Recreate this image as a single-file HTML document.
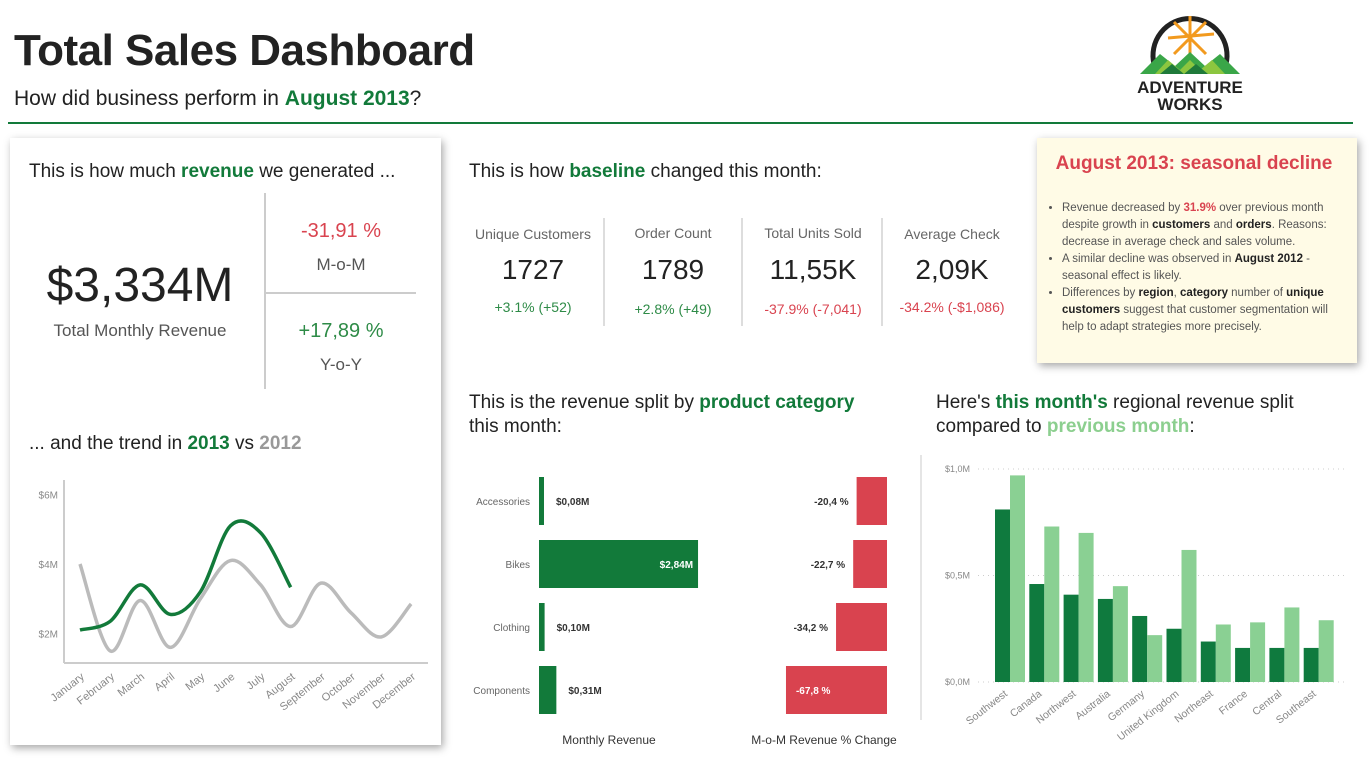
<!DOCTYPE html>
<html><head><meta charset="utf-8"><style>
*{margin:0;padding:0;box-sizing:border-box}
body{width:1370px;height:767px;background:#fff;font-family:"Liberation Sans",sans-serif;position:relative;overflow:hidden;color:#222}
.a{position:absolute}
.g{color:#127a3a;font-weight:bold}
.lg{color:#8ccf8f;font-weight:bold}
.r{color:#d9434f}
.gr{color:#2e8b47}
.card{position:absolute;background:#fff;box-shadow:2px 3px 8px rgba(0,0,0,.35)}
.h{font-size:19px;color:#222}
.kl{font-size:14px;color:#666;text-align:center;width:130px}
.kv{font-size:28px;color:#222;text-align:center;width:130px}
.kd{font-size:14px;text-align:center;width:130px}
svg text{font-family:"Liberation Sans",sans-serif}
</style></head><body>
<div class="a" style="left:14px;top:26px;font-size:44px;font-weight:bold;letter-spacing:-0.5px">Total Sales Dashboard</div>
<div class="a" style="left:14px;top:87px;font-size:21px">How did business perform in <span class="g">August 2013</span>?</div>
<div class="a" style="left:8px;top:122px;width:1345px;height:2px;background:#127a3a"></div>

<svg class="a" style="left:1130px;top:4px" width="120" height="112">
<path d="M24 60 A37 37 0 1 1 96 60" fill="none" stroke="#222" stroke-width="5"/>
<g stroke="#f29a1f" stroke-width="3"><line x1="60" y1="12" x2="60" y2="56"/><line x1="38" y1="34" x2="84" y2="30"/><line x1="44" y1="18" x2="76" y2="50"/><line x1="76" y1="18" x2="44" y2="50"/></g>
<polygon points="10,70 30,50 45,62 60,48 75,62 90,50 110,70" fill="#3aa648"/>
<polygon points="25,70 38,56 50,66 60,56 70,66 82,56 95,70" fill="#8cc63f"/>
<polygon points="30,70 42,60 54,70 66,60 78,70" fill="#1f7a3a"/>
<text x="60" y="89" text-anchor="middle" font-size="17" font-weight="bold" fill="#222">ADVENTURE</text>
<text x="60" y="106" text-anchor="middle" font-size="17" font-weight="bold" fill="#222">WORKS</text>
</svg>

<div class="card" style="left:10px;top:138px;width:431px;height:607px"></div>
<div class="a h" style="left:29px;top:161px">This is how much <span class="g">revenue</span> we generated ...</div>
<div class="a" style="left:20px;top:258px;width:240px;text-align:center;font-size:48px">$3,334M</div>
<div class="a" style="left:20px;top:321px;width:240px;text-align:center;font-size:17px;color:#555">Total Monthly Revenue</div>
<div class="a" style="left:264px;top:193px;width:2px;height:196px;background:#ccc"></div>
<div class="a" style="left:266px;top:292px;width:150px;height:2px;background:#ccc"></div>
<div class="a r" style="left:266px;top:220px;width:150px;text-align:center;font-size:20px">-31,91 %</div>
<div class="a" style="left:266px;top:255px;width:150px;text-align:center;font-size:17px;color:#555">M-o-M</div>
<div class="a gr" style="left:266px;top:320px;width:150px;text-align:center;font-size:20px">+17,89 %</div>
<div class="a" style="left:266px;top:355px;width:150px;text-align:center;font-size:17px;color:#555">Y-o-Y</div>
<div class="a h" style="left:29px;top:433px">... and the trend in <span class="g">2013</span> vs <span style="color:#999;font-weight:bold">2012</span></div>
<svg class="a" id="trend" style="left:20px;top:470px" width="420" height="275"></svg>

<div class="a h" style="left:469px;top:161px">This is how <span class="g">baseline</span> changed this month:</div>
<div class="a kl" style="left:468px;top:226px">Unique Customers</div>
<div class="a kv" style="left:468px;top:254px">1727</div>
<div class="a kd gr" style="left:468px;top:299px">+3.1% (+52)</div>
<div class="a" style="left:603px;top:218px;width:2px;height:108px;background:#ddd"></div>
<div class="a kl" style="left:608px;top:225px">Order Count</div>
<div class="a kv" style="left:608px;top:254px">1789</div>
<div class="a kd gr" style="left:608px;top:301px">+2.8% (+49)</div>
<div class="a" style="left:741px;top:218px;width:2px;height:108px;background:#ddd"></div>
<div class="a kl" style="left:748px;top:225px">Total Units Sold</div>
<div class="a kv" style="left:748px;top:254px">11,55K</div>
<div class="a kd r" style="left:748px;top:301px">-37.9% (-7,041)</div>
<div class="a" style="left:881px;top:218px;width:2px;height:108px;background:#ddd"></div>
<div class="a kl" style="left:887px;top:226px">Average Check</div>
<div class="a kv" style="left:887px;top:254px">2,09K</div>
<div class="a kd r" style="left:887px;top:299px">-34.2% (-$1,086)</div>

<div class="card" style="left:1037px;top:138px;width:320px;height:225px;background:#fffbe6"></div>
<div class="a r" style="left:1037px;top:153px;width:314px;text-align:center;font-size:19px;font-weight:bold">August 2013: seasonal decline</div>
<ul class="a" style="left:1062px;top:200px;width:286px;font-size:11.5px;line-height:17px;color:#555;list-style:disc">
<li>Revenue decreased by <b class="r">31.9%</b> over previous month despite growth in <b style="color:#222">customers</b> and <b style="color:#222">orders</b>. Reasons: decrease in average check and sales volume.</li>
<li>A similar decline was observed in <b style="color:#222">August 2012</b> - seasonal effect is likely.</li>
<li>Differences by <b style="color:#222">region</b>, <b style="color:#222">category</b> number of <b style="color:#222">unique customers</b> suggest that customer segmentation will help to adapt strategies more precisely.</li>
</ul>

<div class="a h" style="left:469px;top:391px;line-height:24px">This is the revenue split by <span class="g">product category</span><br>this month:</div>
<svg class="a" id="cat" style="left:460px;top:460px" width="450" height="300"></svg>

<div class="a h" style="left:936px;top:391px;line-height:24px">Here's <span class="g">this month's</span> regional revenue split<br>compared to <span class="lg">previous month</span>:</div>
<div class="a" style="left:920px;top:455px;width:2px;height:265px;background:#e5e5e5"></div>
<svg class="a" id="reg" style="left:920px;top:450px" width="450" height="317"></svg>

<script>
const months=["January","February","March","April","May","June","July","August","September","October","November","December"];
const sales2012=[4.0,1.5,2.95,1.6,3.0,4.1,3.4,2.2,3.45,2.6,1.9,2.85];
const sales2013=[2.1,2.35,3.4,2.55,3.2,5.1,4.9,3.33];
const trendTicks=[2,4,6];
const categories=["Accessories","Bikes","Clothing","Components"];
const catRevenue=[0.08,2.84,0.10,0.31];
const catRevenueLabels=["$0,08M","$2,84M","$0,10M","$0,31M"];
const catChange=[-20.4,-22.7,-34.2,-67.8];
const catChangeLabels=["-20,4 %","-22,7 %","-34,2 %","-67,8 %"];
const regions=["Southwest","Canada","Northwest","Australia","Germany","United Kingdom","Northeast","France","Central","Southeast"];
const regCurrent=[0.81,0.46,0.41,0.39,0.31,0.25,0.19,0.16,0.16,0.16];
const regPrevious=[0.97,0.73,0.70,0.45,0.22,0.62,0.27,0.28,0.35,0.29];
const regTicks=[0,0.5,1.0];
const regTickLabels=["$0,0M","$0,5M","$1,0M"];

const NS="http://www.w3.org/2000/svg";
function mk(p,t,a,txt){const e=document.createElementNS(NS,t);for(const k in a)e.setAttribute(k,a[k]);if(txt!=null)e.textContent=txt;p.appendChild(e);return e;}
function smooth(pts){let d="M"+pts[0][0]+","+pts[0][1];for(let i=0;i<pts.length-1;i++){const p0=pts[i-1]||pts[i],p1=pts[i],p2=pts[i+1],p3=pts[i+2]||p2;d+=" C"+(p1[0]+(p2[0]-p0[0])/6)+","+(p1[1]+(p2[1]-p0[1])/6)+" "+(p2[0]-(p3[0]-p1[0])/6)+","+(p2[1]-(p3[1]-p1[1])/6)+" "+p2[0]+","+p2[1];}return d;}

// trend
(function(){const s=document.getElementById('trend');
const x=i=>60+i*30.1, y=v=>233-v*34.75;
let e=mk(s,'line',{x1:44,y1:10,x2:44,y2:193,stroke:'#ccc','stroke-width':2});

e=mk(s,'line',{x1:44,y1:193,x2:408,y2:193,stroke:'#ccc','stroke-width':2});

trendTicks.forEach(t=>{const el=mk(s,'text',{x:38,y:y(t)+4,'text-anchor':'end','font-size':10,fill:'#888'},'$'+t+'M');
});
months.forEach((m,i)=>{const el=mk(s,'text',{x:x(i)+5,y:208,'text-anchor':'end','font-size':11,fill:'#888',transform:`rotate(-38 ${x(i)+5} 208)`},m);
});
e=mk(s,'path',{d:smooth(sales2012.map((v,i)=>[x(i),y(v)])),fill:'none',stroke:'#bbb','stroke-width':3.5});

e=mk(s,'path',{d:smooth(sales2013.map((v,i)=>[x(i),y(v)])),fill:'none',stroke:'#127a3a','stroke-width':3.5});

})();

// category
(function(){const s=document.getElementById('cat');
const cy=i=>41+i*63, bw=v=>v*56, cw=v=>-v*1.49;
categories.forEach((c,i)=>{
let el=mk(s,'text',{x:70,y:cy(i)+4,'text-anchor':'end','font-size':10,fill:'#666'},c);

el=mk(s,'rect',{x:79,y:cy(i)-24,width:Math.max(bw(catRevenue[i]),5),height:48,fill:'#127a3a'});

const w=Math.max(bw(catRevenue[i]),5);const inside=w>80;
el=mk(s,'text',{x:inside?79+w-5:79+w+12,y:cy(i)+4,'text-anchor':inside?'end':'start','font-size':10,fill:inside?'#fff':'#333','font-weight':'bold'},catRevenueLabels[i]);

const cwv=cw(catChange[i]);
el=mk(s,'rect',{x:427-cwv,y:cy(i)-24,width:cwv,height:48,fill:'#d9434f'});

const ins=cwv>80;
el=mk(s,'text',{x:ins?427-cwv+10:427-cwv-8,y:cy(i)+4,'text-anchor':ins?'start':'end','font-size':10,fill:ins?'#fff':'#333','font-weight':'bold'},catChangeLabels[i]);

});
let t=mk(s,'text',{x:149,y:284,'text-anchor':'middle','font-size':12,fill:'#333'},'Monthly Revenue');

t=mk(s,'text',{x:364,y:284,'text-anchor':'middle','font-size':12,fill:'#333'},'M-o-M Revenue % Change');

})();

// region
(function(){const s=document.getElementById('reg');
const y=v=>232-v*213, gx=i=>75+i*34.3;
regTicks.forEach((t,k)=>{let el=mk(s,'line',{x1:58,x2:428,y1:y(t),y2:y(t),stroke:'#ccc','stroke-dasharray':'1 4'});

el=mk(s,'text',{x:50,y:y(t)+3,'text-anchor':'end','font-size':9,fill:'#888'},regTickLabels[k]);
});
regions.forEach((r,i)=>{
let el=mk(s,'rect',{x:gx(i),y:y(regCurrent[i]),width:15,height:regCurrent[i]*213,fill:'#0f7a3e'});

el=mk(s,'rect',{x:gx(i)+15,y:y(regPrevious[i]),width:15,height:regPrevious[i]*213,fill:'#8ad093'});

el=mk(s,'text',{x:gx(i)+13,y:245,'text-anchor':'end','font-size':10.5,fill:'#888',transform:`rotate(-38 ${gx(i)+13} 245)`},r);

});
})();
</script>
</body></html>
